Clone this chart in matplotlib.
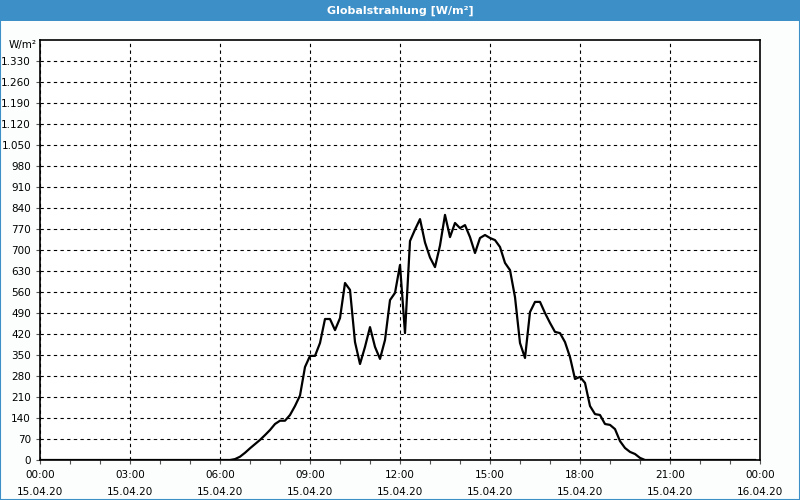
import matplotlib.pyplot as plt
from matplotlib.patches import Rectangle

# Globalstrahlung 15.04.20 (10-minute values)
times = ["00:00", "06:20", "06:30", "06:40", "06:50", "07:00", "07:10", "07:20", "07:30",
         "07:40", "07:50", "08:00", "08:10", "08:20", "08:30", "08:40", "08:50",
         "09:00", "09:10", "09:20", "09:30", "09:40", "09:50", "10:00", "10:10",
         "10:20", "10:30", "10:40", "10:50", "11:00", "11:10", "11:20", "11:30",
         "11:40", "11:50", "12:00", "12:10", "12:20", "12:30", "12:40", "12:50",
         "13:00", "13:10", "13:20", "13:30", "13:40", "13:50", "14:00", "14:10",
         "14:20", "14:30", "14:40", "14:50", "15:00", "15:10", "15:20", "15:30",
         "15:40", "15:50", "16:00", "16:10", "16:20", "16:30", "16:40", "16:50",
         "17:00", "17:10", "17:20", "17:30", "17:40", "17:50", "18:00", "18:10",
         "18:20", "18:30", "18:40", "18:50", "19:00", "19:10", "19:20", "19:30",
         "19:40", "19:50", "20:00", "20:10", "23:50"]
values = [0, 0, 3, 11, 24, 39, 53, 67, 83,
          100, 120, 131, 131, 150, 180, 215, 310,
          347, 347, 390, 470, 470, 433, 473, 590,
          567, 393, 320, 377, 443, 377, 337, 400,
          533, 557, 650, 423, 730, 768, 803, 725,
          675, 643, 715, 817, 743, 790, 773, 783,
          743, 690, 740, 750, 740, 733, 710, 657,
          633, 543, 390, 340, 493, 527, 527, 490,
          457, 427, 423, 393, 343, 270, 277, 257,
          180, 153, 150, 120, 117, 103, 63, 40,
          27, 20, 7, 0, 0]

x_ticks = [0, 3, 6, 9, 12, 15, 18, 21, 24]
x_labels = ["00:00\n15.04.20", "03:00\n15.04.20", "06:00\n15.04.20", "09:00\n15.04.20",
            "12:00\n15.04.20", "15:00\n15.04.20", "18:00\n15.04.20", "21:00\n15.04.20",
            "00:00\n16.04.20"]
y_ticks = list(range(0, 1331, 70))

hours = [int(t[:2]) + int(t[3:]) / 60 for t in times]

fig = plt.figure(figsize=(8, 5), dpi=100, facecolor="#fbfefd")
fig.patches.append(Rectangle((0, 0), 1, 1, transform=fig.transFigure,
                             fill=False, edgecolor="#3c8fc7", linewidth=1.5))
fig.patches.append(Rectangle((0, 0.958), 1, 0.042, transform=fig.transFigure,
                             facecolor="#3c8fc7", edgecolor="none"))
fig.text(0.5, 0.979, "Globalstrahlung [W/m²]", color="white", fontsize=8,
         fontweight="bold", ha="center", va="center")

ax = fig.add_axes([0.05, 0.08, 0.90, 0.84])
ax.set_facecolor("white")
ax.plot(hours, values, color="black", linewidth=1.6)

ax.set_xlim(0, 24)
ax.set_ylim(0, 1400)
ax.set_xticks(x_ticks)
ax.set_xticklabels(x_labels, fontsize=7.5, linespacing=1.9)
ax.set_xticks(range(25), minor=True)
ax.set_yticks(y_ticks)
ax.set_yticklabels([f"{v:,}".replace(",", ".") for v in y_ticks], fontsize=7.5)
ax.text(-0.004, 0.988, "W/m²", transform=ax.transAxes, ha="right", va="center",
        fontsize=7.5)

ax.tick_params(axis="both", which="both", length=3, width=0.8, color="#555555")
ax.tick_params(axis="x", pad=4)
ax.grid(True, which="major", color="black", linestyle=(0, (3, 3)), linewidth=0.8)
for s in ax.spines.values():
    s.set_linewidth(1.2)

fig.savefig("out.png", dpi=100, facecolor=fig.get_facecolor())
